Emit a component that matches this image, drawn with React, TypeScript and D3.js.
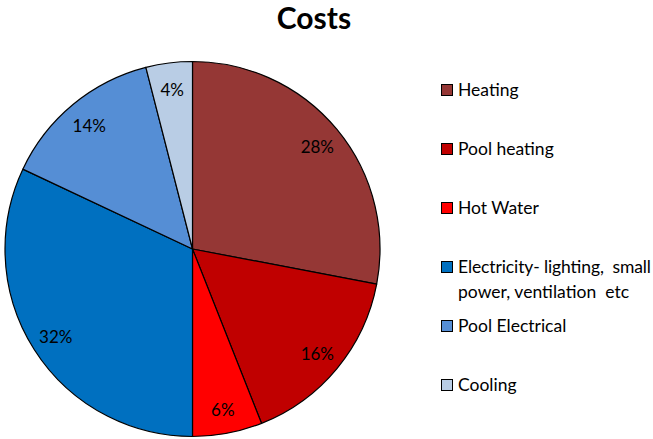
import React from "react";
import * as d3 from "d3";

const categories = [
  "Heating",
  "Pool heating",
  "Hot Water",
  "Electricity- lighting, small power, ventilation etc",
  "Pool Electrical",
  "Cooling",
];
const legendLines = [
  ["Heating"],
  ["Pool heating"],
  ["Hot Water"],
  ["Electricity- lighting,  small", "power, ventilation  etc"],
  ["Pool Electrical"],
  ["Cooling"],
];
const shares = [28, 16, 6, 32, 14, 4];
const colors = ["#953735", "#C00000", "#FF0000", "#0070C0", "#558ED5", "#B9CDE5"];

const W = 653;
const H = 439;
const FONT = "Lato, 'Open Sans', sans-serif";

export default function App() {
  const cx = 192.5;
  const cy = 249;
  const r = 187.5;
  const labelR = 162;

  const pie = d3.pie<number>().sort(null).value((d) => d);
  const arcs = pie(shares);
  const arcGen = d3.arc<d3.PieArcDatum<number>>().innerRadius(0).outerRadius(r);
  const labelArc = d3
    .arc<d3.PieArcDatum<number>>()
    .innerRadius(labelR)
    .outerRadius(labelR);

  const legendY = d3
    .scalePoint<number>()
    .domain(d3.range(categories.length))
    .range([90, 385]);

  return (
    <svg
      width={W}
      height={H}
      style={{ position: "absolute", left: 0, top: 0 }}
      fontFamily={FONT}
    >
      <rect width={W} height={H} fill="#fff" />
      <text x={314} y={29} textAnchor="middle" fontSize={30} fontWeight="bold" fill="#000">
        Costs
      </text>
      <g transform={`translate(${cx},${cy})`}>
        {arcs.map((a, i) => (
          <path key={i} d={arcGen(a) ?? ""} fill={colors[i]} stroke="#000" strokeWidth={1.2} strokeLinejoin="round" />
        ))}
        {arcs.map((a, i) => {
          const [x, y] = labelArc.centroid(a);
          return (
            <text key={i} x={x} y={y + 1.5} dy="0.35em" textAnchor="middle" fontSize={17} fill="#000">
              {`${shares[i]}%`}
            </text>
          );
        })}
      </g>
      <g>
        {categories.map((c, i) => {
          const y = legendY(i) as number;
          return (
            <g key={c}>
              <rect x={441.5} y={y - 5.5} width={11} height={11} fill={colors[i]} stroke="#000" strokeWidth={1} />
              {legendLines[i].map((line, j) => (
                <text
                  key={j}
                  x={458}
                  y={y + j * 25}
                  dy="0.35em"
                  fontSize={17.5}
                  fill="#000"
                  style={{ whiteSpace: "pre" }}
                  textLength={legendLines[i].length > 1 ? (j === 0 ? 193 : 171) : undefined}
                  lengthAdjust="spacing"
                >
                  {line}
                </text>
              ))}
            </g>
          );
        })}
      </g>
    </svg>
  );
}
